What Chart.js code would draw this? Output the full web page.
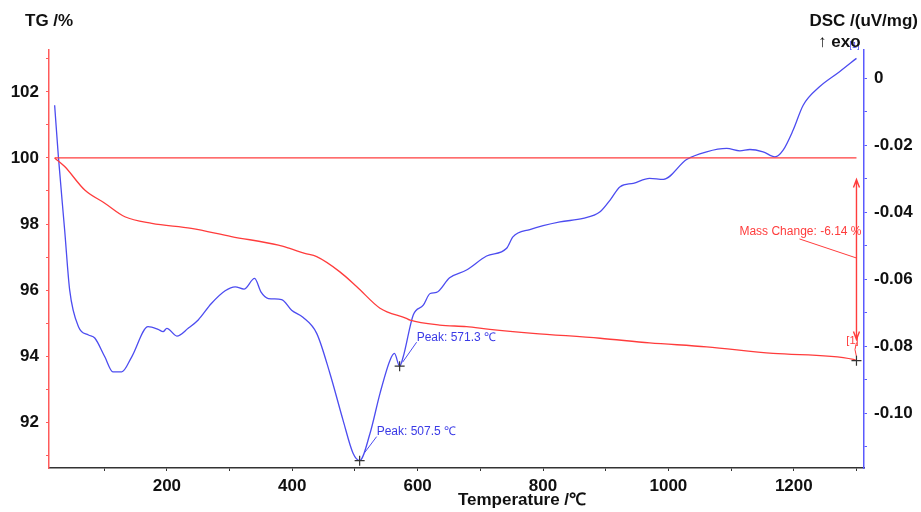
<!DOCTYPE html>
<html>
<head>
<meta charset="utf-8">
<script src="https://cdn.jsdelivr.net/npm/chart.js@4.4.1/dist/chart.umd.min.js"></script>
<style>
html, body { margin: 0; padding: 0; background: #fff; }
#wrap { width: 921px; height: 512px; }
</style>
</head>
<body>
<div id="wrap"><canvas id="chart"></canvas></div>
<script>
// TG curve (left axis, %)
const tgTemp = [21, 37, 69, 101, 133, 176, 239, 303, 378, 396, 420, 439, 476, 503, 540, 582, 588, 635, 678, 715, 784, 891, 970, 1061, 1167, 1295, 1300];
const tgMass = [100.0, 99.74, 99.03, 98.63, 98.22, 98.02, 97.87, 97.62, 97.36, 97.26, 97.11, 97.01, 96.55, 96.10, 95.45, 95.14, 95.09, 94.94, 94.89, 94.81, 94.69, 94.54, 94.40, 94.28, 94.08, 93.90, 93.86];

// DSC curve (right axis, uV/mg)
const dscTemp = [21, 27, 37, 45, 59, 75, 85, 101, 114, 128, 144, 170, 186, 194, 200, 216, 234, 250, 271, 293, 309, 323, 340, 350, 362, 383, 399, 417, 439, 460, 481, 497, 507.5, 524, 540, 556, 563, 571.3, 577, 593, 609, 620, 630, 651, 678, 710, 742, 752, 779, 827, 864, 891, 907, 923, 944, 970, 992, 1029, 1061, 1093, 1114, 1130, 1151, 1170, 1183, 1199, 1215, 1241, 1273, 1300];
const dscSignal = [-0.0081, -0.0235, -0.0454, -0.0633, -0.0742, -0.0767, -0.0776, -0.0832, -0.0877, -0.0877, -0.0832, -0.0742, -0.0750, -0.0757, -0.0747, -0.0770, -0.0747, -0.0722, -0.0673, -0.0635, -0.0623, -0.0630, -0.0598, -0.0638, -0.0658, -0.0661, -0.0693, -0.0714, -0.0762, -0.0881, -0.1021, -0.1120, -0.1142, -0.1061, -0.0941, -0.0842, -0.0822, -0.0860, -0.0832, -0.0707, -0.0678, -0.0643, -0.0640, -0.0596, -0.0573, -0.0531, -0.0508, -0.0474, -0.0452, -0.0429, -0.0419, -0.0399, -0.0364, -0.0324, -0.0314, -0.0299, -0.0302, -0.0243, -0.0220, -0.0210, -0.0217, -0.0213, -0.0220, -0.0235, -0.0215, -0.0155, -0.0081, -0.0026, 0.0019, 0.0059];

// 100 % reference line
const baseTemp = [21, 1300];
const baseMass = [100, 100];

// peaks and mass change
const peakTemps = [507.5, 571.3];
const peakSignals = [-0.1142, -0.0860];
const peakLabels = ['Peak: 507.5 ℃', 'Peak: 571.3 ℃'];
const massChangeTemp = 1300;
const massChangeTop = 99.35;
const massChangeBottom = 94.5;
const massChangeEnd = 93.86;
const massChangeText = 'Mass Change: -6.14 %';

// ticks
const xTickValues = [100, 200, 300, 400, 500, 600, 700, 800, 900, 1000, 1100, 1200, 1300];
const xTickLabels = ['', '200', '', '400', '', '600', '', '800', '', '1000', '', '1200', ''];
const tgTickValues = [91, 92, 93, 94, 95, 96, 97, 98, 99, 100, 101, 102, 103];
const tgTickLabels = ['', '92', '', '94', '', '96', '', '98', '', '100', '', '102', ''];
const dscTickValues = [-0.11, -0.10, -0.09, -0.08, -0.07, -0.06, -0.05, -0.04, -0.03, -0.02, -0.01, 0];
const dscTickLabels = ['', '-0.10', '', '-0.08', '', '-0.06', '', '-0.04', '', '-0.02', '', '0'];

const RED = '#ff3c3c';
const BLUE = '#4c4cf0';
const FONT = 'Liberation Sans, Arial, sans-serif';

const toPoints = (xs, ys) => xs.map((v, i) => ({ x: v, y: ys[i] }));

const notes = {
    id: 'notes',
    afterDatasetsDraw(chart) {
        const ctx = chart.ctx;
        const x = chart.scales.x, y = chart.scales.y, y2 = chart.scales.y2;
        ctx.save();

        const cross = (px, py) => {
            ctx.strokeStyle = '#333';
            ctx.lineWidth = 1.2;
            ctx.beginPath();
            ctx.moveTo(px - 5, py); ctx.lineTo(px + 5, py);
            ctx.moveTo(px, py - 5); ctx.lineTo(px, py + 5);
            ctx.stroke();
        };

        // peak markers
        const offs = [[5, -8, 17, -24, 17, -29], [3, -4, 17, -24, 17, -28]];
        peakTemps.forEach((t, i) => {
            const px = x.getPixelForValue(t);
            const py = y2.getPixelForValue(peakSignals[i]);
            const o = offs[i];
            ctx.strokeStyle = BLUE;
            ctx.lineWidth = 1;
            ctx.beginPath();
            ctx.moveTo(px + o[0], py + o[1]);
            ctx.lineTo(px + o[2], py + o[3]);
            ctx.stroke();
            cross(px, py);
            ctx.fillStyle = '#3a3ae6';
            ctx.font = '12px ' + FONT;
            ctx.textAlign = 'left';
            ctx.textBaseline = 'middle';
            ctx.fillText(peakLabels[i], px + o[4], py + o[5]);
        });

        // mass change arrow
        const mx = x.getPixelForValue(massChangeTemp);
        const top = y.getPixelForValue(massChangeTop);
        const bot = y.getPixelForValue(massChangeBottom);
        const end = y.getPixelForValue(massChangeEnd);
        ctx.strokeStyle = RED;
        ctx.lineWidth = 1.4;
        ctx.beginPath();
        ctx.moveTo(mx, top); ctx.lineTo(mx, bot);
        ctx.moveTo(mx - 3, top + 8); ctx.lineTo(mx, top); ctx.lineTo(mx + 3, top + 8);
        ctx.moveTo(mx - 3, bot - 8); ctx.lineTo(mx, bot); ctx.lineTo(mx + 3, bot - 8);
        ctx.stroke();
        ctx.lineWidth = 1;
        ctx.beginPath();
        ctx.moveTo(mx, bot + 3);
        ctx.quadraticCurveTo(mx - 3, bot + 10, mx, end - 4);
        ctx.stroke();

        // mass change label with leader
        const ty = y.getPixelForValue(97.76);
        ctx.beginPath();
        ctx.moveTo(mx - 57, ty + 7);
        ctx.lineTo(mx, y.getPixelForValue(96.97));
        ctx.stroke();
        ctx.fillStyle = RED;
        ctx.font = '12px ' + FONT;
        ctx.textAlign = 'center';
        ctx.textBaseline = 'middle';
        ctx.fillText(massChangeText, mx - 56, ty);
        ctx.font = '11px ' + FONT;
        ctx.fillText('[1]', mx - 4, bot + 1);

        cross(mx, end);

        // small DSC marker at the top
        ctx.fillStyle = BLUE;
        ctx.font = '9px ' + FONT;
        ctx.fillText('[1]', mx - 2, 46);
        ctx.restore();
    },
    afterDraw(chart) {
        const ctx = chart.ctx;
        ctx.save();
        ctx.fillStyle = '#111';
        ctx.font = 'bold 17px ' + FONT;
        ctx.textBaseline = 'middle';
        ctx.textAlign = 'left';
        ctx.fillText('TG /%', 25, 21);
        ctx.fillText('↑ exo', 818, 42);
        ctx.textAlign = 'right';
        ctx.fillText('DSC /(uV/mg)', 918, 21);
        ctx.textAlign = 'center';
        ctx.fillText('Temperature /℃', 522, 500);
        ctx.restore();
    }
};

const tickFont = { family: FONT, size: 17, weight: 'bold' };

new Chart(document.getElementById('chart'), {
    type: 'line',
    data: {
        datasets: [
            {
                label: 'TG',
                data: toPoints(tgTemp, tgMass),
                yAxisID: 'y',
                borderColor: RED,
                borderWidth: 1.3,
                pointRadius: 0,
                cubicInterpolationMode: 'monotone'
            },
            {
                label: 'base',
                data: toPoints(baseTemp, baseMass),
                yAxisID: 'y',
                borderColor: RED,
                borderWidth: 1.3,
                pointRadius: 0
            },
            {
                label: 'DSC',
                data: toPoints(dscTemp, dscSignal),
                yAxisID: 'y2',
                borderColor: BLUE,
                borderWidth: 1.3,
                pointRadius: 0,
                cubicInterpolationMode: 'monotone'
            }
        ]
    },
    options: {
        responsive: true,
        maintainAspectRatio: false,
        animation: false,
        layout: { padding: { top: 50, left: 0, right: 0, bottom: 0 } },
        plugins: { legend: { display: false }, tooltip: { enabled: false } },
        scales: {
            x: {
                type: 'linear',
                min: 12,
                max: 1312,
                afterFit: s => { s.height = 44; },
                afterBuildTicks: s => { s.ticks = xTickValues.map(v => ({ value: v })); },
                grid: { drawOnChartArea: false, tickLength: 3, color: '#333' },
                border: { color: '#333', width: 1.5 },
                ticks: {
                    autoSkip: false,
                    maxRotation: 0,
                    padding: 5,
                    color: '#111',
                    font: tickFont,
                    callback: (v, i) => xTickLabels[i]
                }
            },
            y: {
                position: 'left',
                min: 90.61,
                max: 103.27,
                afterFit: s => { s.width = 49; },
                afterBuildTicks: s => { s.ticks = tgTickValues.map(v => ({ value: v })); },
                grid: { drawOnChartArea: false, tickLength: 3, color: '#ff5a5a' },
                border: { color: '#ff5a5a', width: 1.5 },
                ticks: {
                    autoSkip: false,
                    padding: 7,
                    color: '#111',
                    font: tickFont,
                    callback: (v, i) => tgTickLabels[i]
                }
            },
            y2: {
                position: 'right',
                min: -0.1164,
                max: 0.0084,
                afterFit: s => { s.width = 57; },
                afterBuildTicks: s => { s.ticks = dscTickValues.map(v => ({ value: v })); },
                grid: { drawOnChartArea: false, tickLength: 3, color: '#5a5aff' },
                border: { color: '#5a5aff', width: 1.5 },
                ticks: {
                    autoSkip: false,
                    padding: 7,
                    color: '#111',
                    font: tickFont,
                    callback: (v, i) => dscTickLabels[i]
                }
            }
        }
    },
    plugins: [notes]
});
</script>
</body>
</html>
